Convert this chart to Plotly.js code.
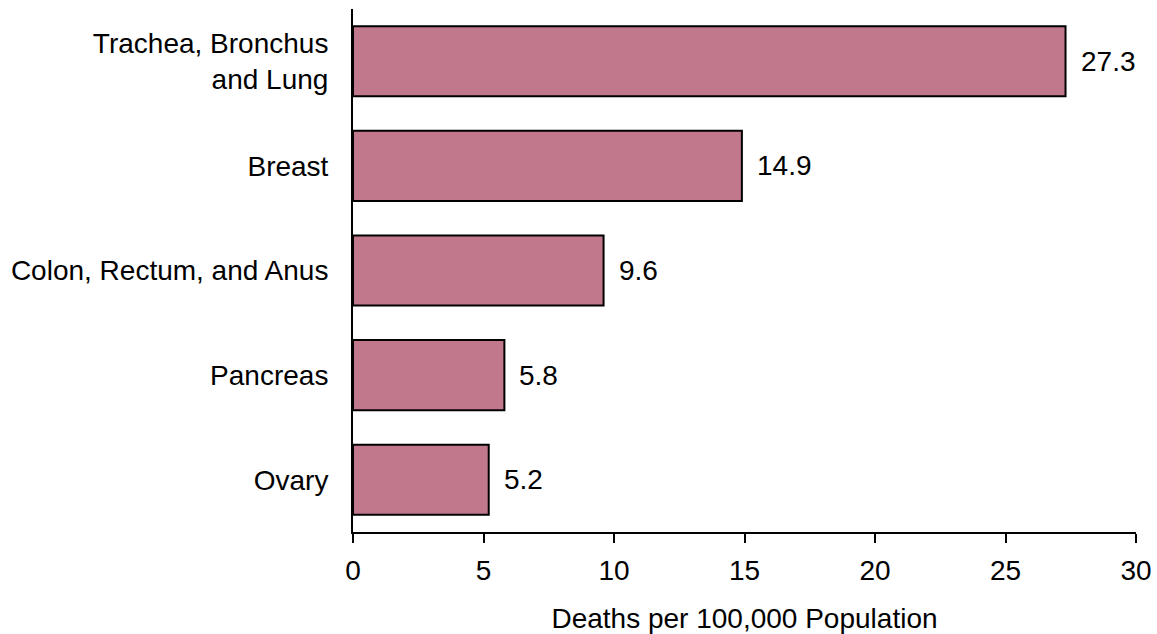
<!DOCTYPE html>
<html>
<head>
<meta charset="utf-8">
<script src="https://cdn.plot.ly/plotly-3.0.1.min.js"></script>
<style>html,body{margin:0;padding:0;background:#fff;}#chart{width:1157px;height:634px;}</style>
</head>
<body>
<div id="chart"></div>
<script>
const categories = ["Trachea, Bronchus<br>and Lung", "Breast", "Colon, Rectum, and Anus", "Pancreas", "Ovary"];
const values = [27.3, 14.9, 9.6, 5.8, 5.2];
const xTicks = [0, 5, 10, 15, 20, 25, 30];
const xTitle = "Deaths per 100,000 Population";

const font = {family: "Liberation Sans, Arial, sans-serif", size: 28, color: "#000"};

const trace = {
  type: "bar",
  orientation: "h",
  y: categories,
  x: values,
  marker: {color: "#C1778C", line: {color: "#000", width: 2}},
  hoverinfo: "none"
};

const annotations = values.map((v, i) => ({
  x: v, y: categories[i], xref: "x", yref: "y",
  text: v.toFixed(1), showarrow: false, xanchor: "left", yanchor: "middle",
  xshift: 13, font: font
}));

const layout = {
  width: 1157, height: 634,
  margin: {l: 353, r: 21, t: 9, b: 102},
  paper_bgcolor: "#fff", plot_bgcolor: "#fff",
  font: font,
  showlegend: false,
  bargap: 0.33,
  xaxis: {
    range: [0, 30], tickvals: xTicks, ticktext: xTicks.map(String),
    showgrid: false, zeroline: false, showline: true, linecolor: "#000", linewidth: 2,
    ticks: "outside", ticklen: 9, tickwidth: 2, tickcolor: "#000",
    ticklabelstandoff: 3,
    tickfont: font,
    title: {text: xTitle, font: font, standoff: 25}
  },
  yaxis: {
    autorange: "reversed", type: "category",
    showgrid: false, zeroline: false, showline: true, linecolor: "#000", linewidth: 2,
    ticks: "", ticklabelstandoff: 17, tickfont: font
  },
  annotations: annotations
};

Plotly.newPlot("chart", [trace], layout, {staticPlot: true, displayModeBar: false});
</script>
</body>
</html>
